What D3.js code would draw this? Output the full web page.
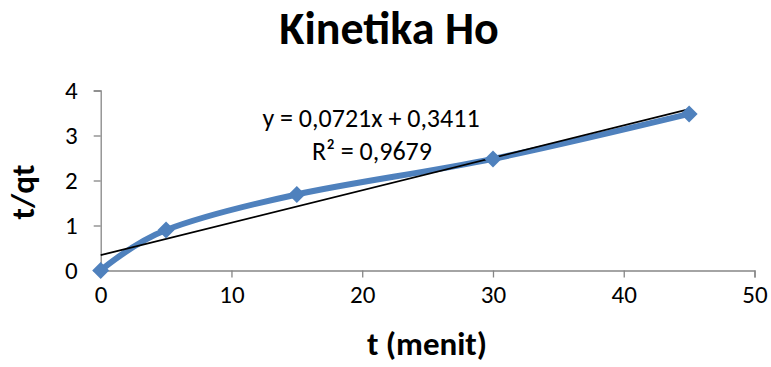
<!DOCTYPE html>
<html>
<head>
<meta charset="utf-8">
<script src="https://cdn.jsdelivr.net/npm/d3@7"></script>
<style>
  html, body { margin: 0; padding: 0; background: #fff; }
  svg { display: block; font-family: Carlito, Lato, "Open Sans", sans-serif; }
</style>
</head>
<body>
<svg id="chart" width="771" height="367"></svg>
<script>
// Time (minutes) and t/qt values
const tMinutes = [0, 5, 15, 30, 45];
const tOverQt = [0, 0.9, 1.69, 2.48, 3.48];
const xTicks = [0, 10, 20, 30, 40, 50];
const yTicks = [0, 1, 2, 3, 4];
// Linear trendline parameters shown in the label
const slope = 0.0721;
const intercept = 0.3411;
const rSquared = 0.9679;

const svg = d3.select("#chart");
const x = d3.scaleLinear().domain([0, 50]).range([100.7, 754.5]);
const y = d3.scaleLinear().domain([0, 4]).range([270.5, 90.5]);

const axisColor = "#868686";
const fontStack = "Carlito, Lato, 'Open Sans', sans-serif";
const fmt = v => v.toFixed(4).replace(".", ",");

// Title
svg.append("text")
  .attr("x", 389).attr("y", 44)
  .attr("text-anchor", "middle")
  .attr("font-size", 46).attr("font-weight", "bold")
  .text("Kinetika Ho");

// Axes
const xAxis = svg.append("g")
  .attr("transform", `translate(0,${y(0)})`)
  .call(d3.axisBottom(x).tickValues(xTicks).tickFormat(d3.format("d")).tickSize(7).tickPadding(8));
const yAxis = svg.append("g")
  .attr("transform", `translate(${x(0)},0)`)
  .call(d3.axisLeft(y).tickValues(yTicks).tickFormat(d3.format("d")).tickSize(7).tickPadding(16));
[xAxis, yAxis].forEach(g => {
  g.attr("font-family", fontStack).attr("font-size", 25);
  g.select(".domain").attr("stroke", axisColor).attr("stroke-width", 1.3);
  g.selectAll(".tick line").attr("stroke", axisColor).attr("stroke-width", 1.3);
  g.selectAll(".tick text").attr("fill", "#000");
});

// Axis titles
svg.append("text")
  .attr("x", 427).attr("y", 355)
  .attr("text-anchor", "middle")
  .attr("font-size", 33).attr("font-weight", "bold")
  .text("t (menit)");
svg.append("text")
  .attr("transform", `translate(34,${192}) rotate(-90)`)
  .attr("text-anchor", "middle")
  .attr("font-size", 33).attr("font-weight", "bold")
  .text("t/qt");

// Smoothed data line
const pts = tMinutes.map((t, i) => [t, tOverQt[i]]);
svg.append("path")
  .datum(pts)
  .attr("fill", "none")
  .attr("stroke", "#4F81BD")
  .attr("stroke-width", 6)
  .attr("stroke-linejoin", "round")
  .attr("d", d3.line().x(d => x(d[0])).y(d => y(d[1])).curve(d3.curveCardinal.tension(0)));

// Linear trendline
const tEnds = [d3.min(tMinutes), d3.max(tMinutes)];
svg.append("line")
  .attr("x1", x(tEnds[0])).attr("y1", y(intercept + slope * tEnds[0]))
  .attr("x2", x(tEnds[1])).attr("y2", y(intercept + slope * tEnds[1]))
  .attr("stroke", "#000").attr("stroke-width", 1.6);

// Diamond markers
svg.append("g").selectAll("path")
  .data(pts)
  .join("path")
  .attr("transform", d => `translate(${x(d[0])},${y(d[1])})`)
  .attr("d", "M0,-8.5L8.5,0L0,8.5L-8.5,0Z")
  .attr("fill", "#4F81BD");

// Trendline equation
const eq = svg.append("text").attr("font-size", 26).attr("text-anchor", "middle");
eq.append("tspan").attr("x", 371).attr("y", 127)
  .text(`y = ${fmt(slope)}x + ${fmt(intercept)}`);
eq.append("tspan").attr("x", 372).attr("y", 160)
  .text(`R² = ${fmt(rSquared)}`);
</script>
</body>
</html>
